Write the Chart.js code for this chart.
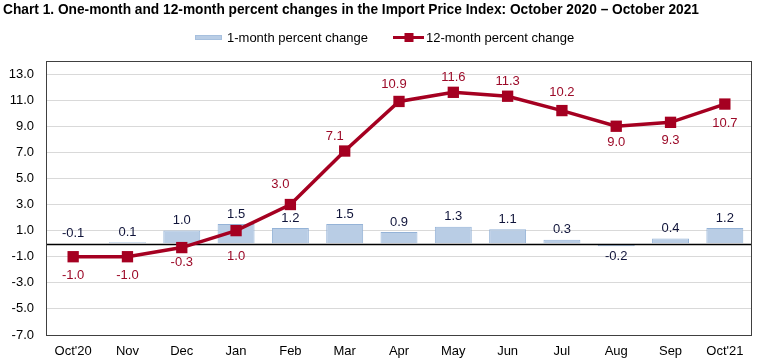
<!DOCTYPE html>
<html>
<head>
<meta charset="utf-8">
<script src="https://cdn.jsdelivr.net/npm/chart.js@4.4.0/dist/chart.umd.min.js"></script>
<style>
  html, body { margin: 0; padding: 0; background: #fff; }
  #wrap { width: 760px; height: 361px; }
</style>
</head>
<body>
<div id="wrap"><canvas id="chart"></canvas></div>
<script>
// Data
const months = ['Oct\'20', 'Nov', 'Dec', 'Jan', 'Feb', 'Mar', 'Apr', 'May', 'Jun', 'Jul', 'Aug', 'Sep', 'Oct\'21'];
const oneMonth = [-0.1, 0.1, 1.0, 1.5, 1.2, 1.5, 0.9, 1.3, 1.1, 0.3, -0.2, 0.4, 1.2];
const twelveMonth = [-1.0, -1.0, -0.3, 1.0, 3.0, 7.1, 10.9, 11.6, 11.3, 10.2, 9.0, 9.3, 10.7];
const yTicks = [-7, -5, -3, -1, 0, 1, 3, 5, 7, 9, 11, 13];

const titleText = 'Chart 1. One-month and 12-month percent changes in the Import Price Index: October 2020 \u2013 October 2021';
const FONT = '"Liberation Sans", Arial, sans-serif';
const RED = '#a50021';
const BAR_FILL = '#b9cde5';
const BAR_EDGE = '#95b3d7';

// label offsets (px) for the 12-month line labels
const lineLabelOffset = [
  [0, 19], [0, 19], [0, 15], [0, 26], [-10, -20], [-10, -15], [-5, -17],
  [0, -15], [0, -15], [0, -18], [0, 16], [0, 18], [0, 19]
];

const headerPlugin = {
  id: 'header',
  afterDraw(chart) {
    const ctx = chart.ctx;
    ctx.save();
    // title, squeezed a bit to the reference width
    ctx.font = 'bold 15px ' + FONT;
    ctx.fillStyle = '#000';
    ctx.textBaseline = 'middle';
    ctx.textAlign = 'left';
    const w = ctx.measureText(titleText).width;
    ctx.translate(3, 10);
    ctx.scale(696 / w, 1);
    ctx.fillText(titleText, 0, 0);
    ctx.restore();

    // legend
    ctx.save();
    ctx.fillStyle = BAR_FILL;
    ctx.fillRect(195, 35, 27, 5);
    ctx.strokeStyle = BAR_EDGE;
    ctx.lineWidth = 1;
    ctx.setLineDash([1, 1]);
    ctx.strokeRect(195.5, 35.5, 26, 4);
    ctx.setLineDash([]);
    ctx.font = '13px ' + FONT;
    ctx.fillStyle = '#000';
    ctx.textBaseline = 'middle';
    ctx.fillText('1-month percent change', 227, 38);
    ctx.strokeStyle = RED;
    ctx.lineWidth = 3;
    ctx.beginPath();
    ctx.moveTo(393, 37.5);
    ctx.lineTo(424, 37.5);
    ctx.stroke();
    ctx.fillStyle = RED;
    ctx.fillRect(404.5, 33, 9, 9);
    ctx.fillStyle = '#000';
    ctx.fillText('12-month percent change', 426, 38);
    ctx.restore();

    // frame round the plot area
    const a = chart.chartArea;
    ctx.save();
    ctx.strokeStyle = '#404040';
    ctx.lineWidth = 1;
    ctx.strokeRect(Math.round(a.left) + 0.5, Math.round(a.top) + 0.5,
      Math.round(a.right - a.left) - 1, Math.round(a.bottom - a.top));
    ctx.restore();
  },
  afterDatasetDraw(chart, args) {
    // zero line sits above the bars but under the line
    if (args.index !== 0) return;
    const ctx = chart.ctx;
    const a = chart.chartArea;
    const y0 = Math.round(chart.scales.y.getPixelForValue(0)) + 0.5;
    ctx.save();
    ctx.strokeStyle = '#000';
    ctx.lineWidth = 1.5;
    ctx.beginPath();
    ctx.moveTo(a.left, y0);
    ctx.lineTo(a.right, y0);
    ctx.stroke();
    ctx.restore();
  }
};

const labelPlugin = {
  id: 'valueLabels',
  afterDraw(chart) {
    const ctx = chart.ctx;
    const ys = chart.scales.y;
    ctx.save();
    ctx.font = '13px ' + FONT;
    ctx.textAlign = 'center';
    ctx.textBaseline = 'middle';

    // bar labels
    ctx.fillStyle = '#10143a';
    chart.getDatasetMeta(0).data.forEach((bar, i) => {
      const v = oneMonth[i];
      let y;
      if (v < -0.15) y = ys.getPixelForValue(v) + 10;
      else y = ys.getPixelForValue(Math.max(v, 0)) - 10;
      ctx.fillText(v.toFixed(1), bar.x, y);
    });

    // line labels
    ctx.fillStyle = '#9c0a28';
    chart.getDatasetMeta(1).data.forEach((pt, i) => {
      const off = lineLabelOffset[i];
      ctx.fillText(twelveMonth[i].toFixed(1), pt.x + off[0], pt.y + off[1]);
    });
    ctx.restore();
  }
};

new Chart(document.getElementById('chart'), {
  data: {
    labels: months,
    datasets: [
      {
        type: 'bar',
        label: '1-month percent change',
        data: oneMonth,
        backgroundColor: BAR_FILL,
        borderColor: BAR_EDGE,
        borderWidth: 1,
        borderSkipped: 'start',
        categoryPercentage: 1,
        barPercentage: 0.68,
        order: 2
      },
      {
        type: 'line',
        label: '12-month percent change',
        data: twelveMonth,
        borderColor: RED,
        backgroundColor: RED,
        borderWidth: 3.5,
        pointStyle: 'rect',
        pointRadius: 8,
        pointHoverRadius: 8,
        pointBorderWidth: 0,
        tension: 0,
        order: 1
      }
    ]
  },
  options: {
    responsive: true,
    maintainAspectRatio: false,
    animation: false,
    layout: { padding: { top: 61, right: 8, left: 0, bottom: 0 } },
    plugins: {
      legend: { display: false },
      title: { display: false },
      tooltip: { enabled: false }
    },
    scales: {
      x: {
        offset: true,
        grid: { display: false, drawTicks: false },
        border: { display: false },
        ticks: {
          color: '#000',
          font: { family: FONT, size: 13 },
          padding: 9,
          maxRotation: 0,
          autoSkip: false
        },
        afterFit(scale) { scale.height = 26; }
      },
      y: {
        min: -7,
        max: 14,
        afterBuildTicks(scale) {
          scale.ticks = yTicks.map(v => ({ value: v }));
        },
        afterFit(scale) { scale.width = 46; },
        grid: {
          drawTicks: false,
          color: c => (c.tick && c.tick.value === 0 ? 'rgba(0,0,0,0)' : '#d9d9d9'),
          lineWidth: 1
        },
        border: { display: false },
        ticks: {
          color: '#000',
          font: { family: FONT, size: 13 },
          padding: 12,
          callback: v => (v === 0 ? '' : v.toFixed(1))
        }
      }
    }
  },
  plugins: [headerPlugin, labelPlugin]
});
</script>
</body>
</html>
